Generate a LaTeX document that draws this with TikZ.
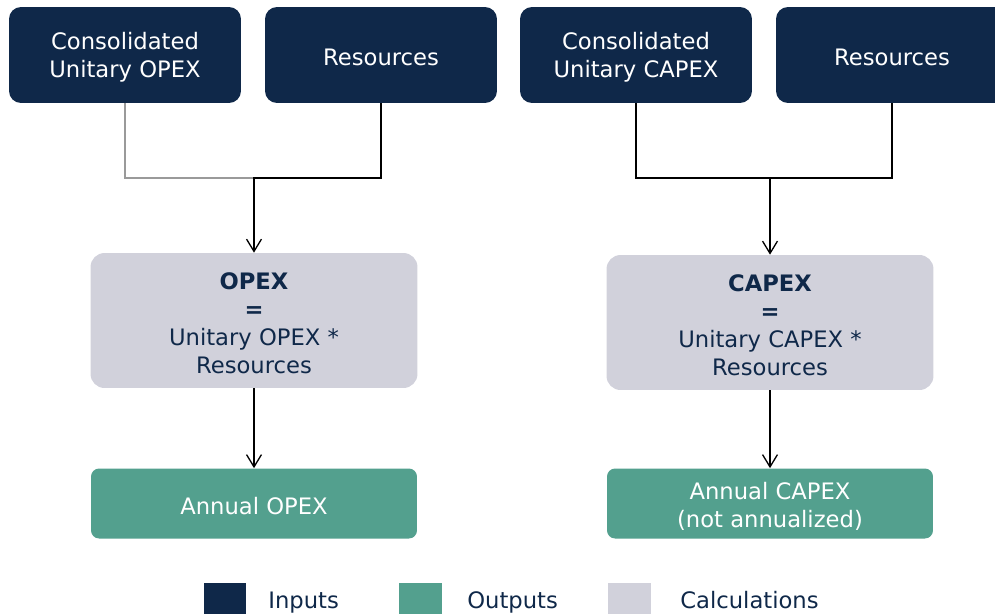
\documentclass[tikz,border=0pt]{standalone}
\usepackage{fontspec}
\setmainfont{DejaVu Sans}
\usetikzlibrary{arrows.meta}

\definecolor{navy}{HTML}{0F2849}
\definecolor{teal}{HTML}{53A08E}
\definecolor{calcgray}{HTML}{D1D1DB}
\definecolor{linegray}{HTML}{9A9A9A}

% taller first line, to push the text a little down in its box
\newcommand{\hi}{\rule{0pt}{12.6pt}}

\tikzset{
  inputbox/.style={fill=navy, text=white, rounded corners=0.24cm, minimum width=4.64cm, minimum height=1.92cm, align=center, inner sep=0pt},
  calcbox/.style={fill=calcgray, text=navy, rounded corners=0.28cm, minimum width=6.54cm, minimum height=2.7cm, align=center, inner sep=0pt},
  outbox/.style={fill=teal, text=white, rounded corners=0.16cm, minimum width=6.52cm, minimum height=1.4cm, align=center, inner sep=0pt},
  link/.style={line width=0.75pt, -{Straight Barb[length=7pt,width=8.5pt]}},
  swatch/.style={minimum width=0.86cm, minimum height=0.86cm, inner sep=0pt},
  legtext/.style={anchor=base west, text=navy, inner sep=0pt}
}

\begin{document}
\begin{tikzpicture}[x=0.02cm, y=-0.02cm, font=\fontsize{12.9}{15.9}\selectfont]
\useasboundingbox (0,0) rectangle (995,613);

% inputs
\node[inputbox] (in1) at (125,55) {\hi Consolidated\\Unitary OPEX};
\node[inputbox] (in2) at (381,55) {\hi Resources};
\node[inputbox] (in3) at (636,55) {\hi Consolidated\\Unitary CAPEX};
\node[inputbox] (in4) at (892,55) {\hi Resources};

% calculations
\node[calcbox] (calc1) at (254,320.5) {\hi\textbf{OPEX}\\\textbf{=}\\Unitary OPEX *\\Resources};
\node[calcbox] (calc2) at (770,322.5) {\hi\textbf{CAPEX}\\\textbf{=}\\Unitary CAPEX *\\Resources};

% outputs
\node[outbox] (out1) at (254,503.5) {\hi Annual OPEX};
\node[outbox] (out2) at (770,503.5) {\hi Annual CAPEX\\(not annualized)};

\coordinate (join1) at (254,178);
\coordinate (join2) at (770,178);

\draw[linegray, line width=0.6pt] (in1.south) |- (join1);
\draw[link] (in2.south) |- (join1) -- (calc1.north);
\draw[line width=0.75pt] (in3.south) |- (join2);
\draw[link] (in4.south) |- (join2) -- (calc2.north);
\draw[link] (calc1.south) -- (out1.north);
\draw[link] (calc2.south) -- (out2.north);

% legend
\node[swatch, fill=navy] (keyin) at (225,604) {};
\node[swatch, fill=teal] (keyout) at (420.5,604) {};
\node[swatch, fill=calcgray] (keycalc) at (629.5,604) {};
\node[legtext] (labin) at (268,608) {Inputs};
\node[legtext] (labout) at (467,608) {Outputs};
\node[legtext] (labcalc) at (680,608) {Calculations};
\end{tikzpicture}
\end{document}
